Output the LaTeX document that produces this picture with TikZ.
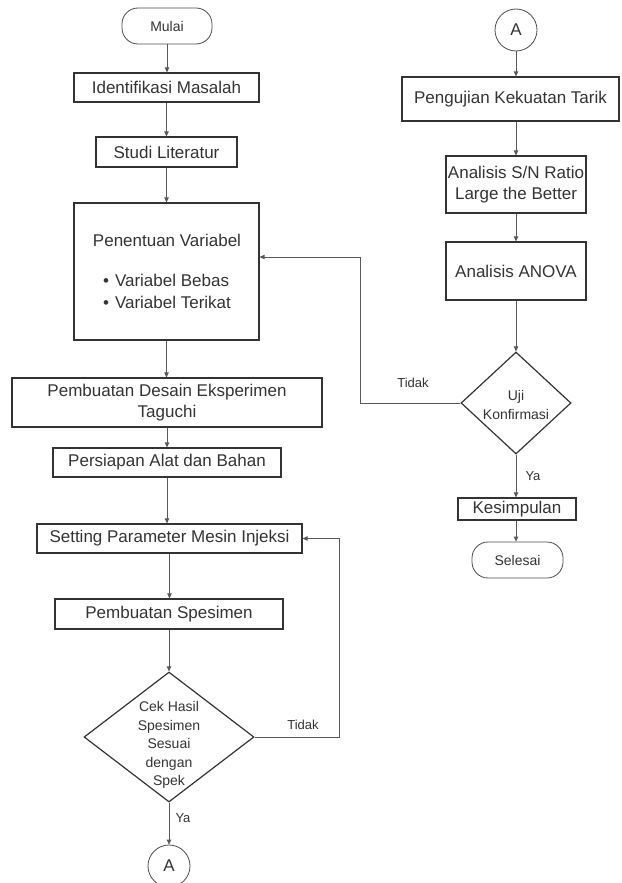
\documentclass[tikz,border=0pt]{standalone}
\usepackage{fontspec}
\setmainfont{Liberation Sans}
\usetikzlibrary{shapes.geometric,arrows.meta,calc}
\begin{document}
\begin{tikzpicture}[x=1pt,y=-1pt,
  every node/.style={text=black!80},
  boxnode/.style={draw=black!80,line width=1.2pt,rectangle,inner sep=0pt,align=center,font=\fontsize{17}{21.5}\selectfont},
  btext/.style={align=center,font=\fontsize{17}{21.5}\selectfont},
  termnode/.style={draw=black!70,line width=0.8pt,rectangle,rounded corners=16pt,inner sep=0pt,font=\fontsize{14}{18}\selectfont},
  connnode/.style={draw=black!70,line width=0.8pt,circle,inner sep=0pt,minimum size=42pt,font=\fontsize{17}{20}\selectfont},
  decnode/.style={draw=black!80,line width=1.2pt,diamond,inner sep=0pt},
  dtext/.style={align=center,font=\fontsize{14}{18.5}\selectfont},
  lbl/.style={font=\fontsize{13}{15}\selectfont},
  arr/.style={draw=black!65,line width=0.8pt,-{Triangle[length=5pt,width=4.5pt]}}
]
\useasboundingbox (0,0) rectangle (621,883);
% left column
\node[termnode,minimum width=90pt,minimum height=36pt] (mulai) at (167,26) {Mulai};
\node[boxnode,minimum width=185pt,minimum height=29pt] (ident) at (166.5,87.5) {Identifikasi Masalah};
\node[boxnode,minimum width=141pt,minimum height=30pt] (studi) at (166.5,152) {Studi Literatur};
\node[boxnode,minimum width=185pt,minimum height=137pt] (penentuan) at (166.5,271.5) {};
\node[btext] (pent) at (167,274.5) {Penentuan Variabel\\[24pt]\begin{tabular}{@{}l@{}}\textbullet\hspace{6pt}Variabel Bebas\\[0pt]\textbullet\hspace{6pt}Variabel Terikat\end{tabular}};
\node[boxnode,minimum width=310pt,minimum height=49pt] (desain) at (167,402.5) {Pembuatan Desain Eksperimen\\Taguchi};
\node[boxnode,minimum width=228pt,minimum height=29pt] (persiapan) at (167,462.5) {Persiapan Alat dan Bahan};
\node[boxnode,minimum width=265pt,minimum height=29pt] (setting) at (169.5,538.5) {Setting Parameter Mesin Injeksi};
\node[boxnode,minimum width=228pt,minimum height=30pt] (spesimen) at (169,614) {Pembuatan Spesimen};
\node[decnode,minimum width=170pt,minimum height=130pt] (cek) at (169,737) {};
\node[dtext] (cekt) at (169,745) {Cek Hasil\\Spesimen\\Sesuai\\dengan\\Spek};
\node[connnode] (a1) at (169,866) {A};
% right column
\node[connnode] (a2) at (516,30) {A};
\node[boxnode,minimum width=217pt,minimum height=44pt] (uji1) at (510.5,99) {Pengujian Kekuatan Tarik};
\node[boxnode,minimum width=140pt,minimum height=57pt] (sn) at (516,184.5) {Analisis S/N Ratio\\Large the Better};
\node[boxnode,minimum width=140pt,minimum height=58pt] (anova) at (516,271) {Analisis ANOVA};
\node[decnode,minimum width=110pt,minimum height=102pt] (uji) at (516,403) {};
\node[dtext] (ujit) at (516,405) {Uji\\Konfirmasi};
\node[boxnode,minimum width=118pt,minimum height=22pt] (kes) at (517,509) {Kesimpulan};
\node[termnode,minimum width=91pt,minimum height=36pt] (selesai) at (517.5,560) {Selesai};
% connectors left
\draw[arr] (mulai.south) -- (mulai.south |- ident.north);
\draw[arr] (ident.south) -- (ident.south |- studi.north);
\draw[arr] (studi.south) -- (studi.south |- penentuan.north);
\draw[arr] (penentuan.south) -- (penentuan.south |- desain.north);
\draw[arr] (desain.south) -- (desain.south |- persiapan.north);
\draw[arr] (persiapan.south) -- (persiapan.south |- setting.north);
\draw[arr] (setting.south) -- (setting.south |- spesimen.north);
\draw[arr] (spesimen.south) -- (spesimen.south |- cek.north);
\draw[arr] (cek.south) -- (a1.north);
\coordinate (r1) at (339,737);
\draw[arr] (cek.east) -- (r1) |- (setting.east);
\node[lbl] at (303,725) {Tidak};
\node[lbl] at (183,818) {Ya};
% connectors right
\draw[arr] (a2.south) -- (a2.south |- uji1.north);
\draw[arr] (a2.south |- uji1.south) -- (sn.north);
\draw[arr] (sn.south) -- (anova.north);
\draw[arr] (anova.south) -- (uji.north);
\draw[arr] (uji.south) -- (uji.south |- kes.north);
\draw[arr] (uji.south |- kes.south) -- (uji.south |- selesai.north);
\coordinate (r2) at (360,403);
\draw[arr] (uji.west) -- (r2) |- ([yshift=14.5pt]penentuan.east);
\node[lbl] at (413,383) {Tidak};
\node[lbl] at (533,476) {Ya};
\end{tikzpicture}
\end{document}
